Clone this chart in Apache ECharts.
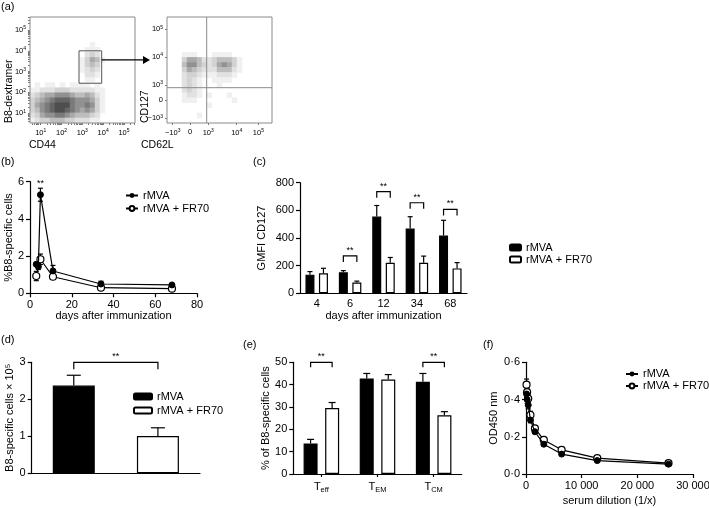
<!DOCTYPE html>
<html><head><meta charset="utf-8">
<script src="https://cdn.jsdelivr.net/npm/echarts@6.0.0/dist/echarts.min.js"></script>
<style>
html,body{margin:0;padding:0;background:#fff;width:709px;height:508px;overflow:hidden;}
#chart{position:absolute;left:0;top:0;width:709px;height:508px;}
</style></head><body>
<div id="chart"></div>
<script>
// ================= DATA =================
// (a) flow cytometry: density levels (0-9), rows top->bottom
const cd44Density = [
"000000000000000000000","000000000000000000000","000000000000000000000","000000000000000000000",
"000000000000000000000","000000000000100000000","000000000001110000000","000000000002320000000",
"000000000013541000000","000000000013430000000","000000000012320000000","000000000002210000000",
"000000000001100000000","010110101111010000000","112223332222211000000","234556665445421000000",
"345678887666531000000","356789997667631000000","346789987656531000000","235667765444320000000",
"123344433222110000000"];
const cd62lDensity = [
"000000000000000000000","000000000000000000000","000000000000000000000","000000000000000000000",
"000000000000000000000","000000000000000000000","000000000000000000000","000111000111100000000",
"000355422344431000000","000466432356531000000","000354322244421000000","000233211122210000000",
"000232100111100000000","000232100010000000000","000232100000000000000","000122101000100000000",
"000111000000010000000","000000001000000000000","000000000000000000000","000000100000000000000",
"000000000000000000000"];
const cd44Range = [0.485, 5.53];          // log10 units
const dexRange = [0.53, 5.625];
const logDecades = [1, 2, 3, 4, 5];
const gateCD44 = [2.84, 3.93];
const gateDex = [2.44, 4.0];
const arrowSpec = [3.93, 6.25, 3.56];      // from x, to x, at y (log units)
const cd62lTickPos = [0.054, 0.219, 0.393, 0.664, 0.87];
const cd62lTickLab = ['−10^3', '0', '10^3', '10^4', '10^5'];
const cd127TickPos = [0.044, 0.217, 0.358, 0.625, 0.884];
const cd127TickLab = ['−10^3', '0', '10^3', '10^4', '10^5'];
const quadGate = [0.378, 0.333];

// (b)
const bXTicks  = [0, 20, 40, 60, 80];
const bYTicks  = [0, 2, 4, 6];
const bDaysMVA = [3, 4, 5, 11, 34, 68];
const bMVA     = [1.56, 1.43, 5.3, 1.2, 0.5, 0.45];
const bMVAErr  = [0.1, 0.15, 0.35, 0.3, 0.15, 0.05];
const bDaysFR  = [3, 5, 11, 34, 68];
const bFR      = [0.93, 1.83, 0.89, 0.3, 0.25];
const bFRErr   = [0.25, 0.28, 0.08, 0.05, 0.04];
const bSig     = [[5, 5.9]];

// (c)
const cYTicks = [0, 200, 400, 600, 800];
const cDays   = ['4', '6', '12', '34', '68'];
const cMVA    = [135, 152, 555, 468, 418];
const cMVAErr = [22, 12, 80, 86, 110];
const cFR     = [145, 78, 221, 221, 180];
const cFRErr  = [36, 10, 38, 48, 42];
const cSig    = [[1, 1, 270], [2, 2, 735], [3, 3, 655], [4, 4, 607]];

// (d)
const dYTicks = [0, 1, 2, 3];
const dGroups = ['rMVA', 'rMVA + FR70'];
const dMean   = [2.37, 1.01];
const dErr    = [0.28, 0.22];
const dSig    = [[0, 1, 3]];

// (e)
const eYTicks = [0, 10, 20, 30, 40, 50];
const eCats   = ['eff', 'EM', 'CM'];
const eMVA    = [13.7, 42.8, 41.3];
const eMVAErr = [1.8, 2.2, 3.7];
const eFR     = [29.5, 42.3, 26.3];
const eFRErr  = [2.5, 2.2, 1.6];
const eSig    = [[0, 0, 50], [2, 2, 50]];

// (f)
const fXTicks = [0, 10000, 20000, 30000];
const fYTicks = [0, 0.2, 0.4, 0.6];
const fDil    = [100, 200, 400, 800, 1600, 3200, 6400, 12800, 25600];
const fMVA    = [0.43, 0.40, 0.37, 0.29, 0.227, 0.16, 0.107, 0.072, 0.053];
const fMVAErr = [0.02, 0.02, 0.02, 0.015, 0.01, 0.01, 0.008, 0.006, 0.005];
const fFR     = [0.48, 0.44, 0.405, 0.317, 0.245, 0.183, 0.13, 0.085, 0.058];
const fFRErr  = [0.03, 0.02, 0.02, 0.02, 0.015, 0.012, 0.01, 0.008, 0.005];

// ================= HELPERS =================
const FONT = "'Liberation Sans', Arial, Helvetica, sans-serif";
const LINE = {color: '#000', width: 1.2};
const S1 = 'rMVA', S2 = 'rMVA + FR70';
function zip(a, b) { return a.map((v, i) => [v, b[i]]); }
function zip3(a, b, c) { return a.map((v, i) => [v, b[i], c[i]]); }
function densData(rows) {
  const d = [];
  rows.forEach((s, r) => { for (let c = 0; c < s.length; c++) { const v = +s[c]; if (v > 0) d.push([c, r, v]); } });
  return d;
}
function idx(n) { return Array.from({length: n}, (_, i) => String(i)); }
function logTicks(lo, hi) {
  const t = [];
  for (let n = 0; n <= 6; n++) for (let k = 1; k <= 9; k++) { const v = n + Math.log10(k); if (v >= lo && v <= hi) t.push(v); }
  return t;
}
function supFmt(s) {
  const m = s.match(/^(.*)\^(\d)$/);
  return m ? '{b|' + m[1] + '}{s|' + m[2] + '}' : '{b|' + s + '}';
}
const supRich = {b: {fontSize: 7.5, fontFamily: FONT, color: '#000'}, s: {fontSize: 5, fontFamily: FONT, color: '#000', padding: [0, 0, 4, 0]}};
function lookupFmt(pos, lab) { return v => { const i = pos.findIndex(p => Math.abs(p - v) < 1e-6); return i < 0 ? '' : supFmt(lab[i]); }; }

function errRender(offset, both, cap) {
  return function (params, api) {
    const x = api.value(0), m = api.value(1), e = api.value(2);
    const c = api.coord([x, m]);
    const hi = api.coord([x, m + e]);
    const lo = both ? api.coord([x, m - e]) : c;
    const px = c[0] + offset;
    const st = {stroke: '#000', lineWidth: 1.2, fill: null};
    const ch = [
      {type: 'line', shape: {x1: px, y1: lo[1], x2: px, y2: hi[1]}, style: st},
      {type: 'line', shape: {x1: px - cap, y1: hi[1], x2: px + cap, y2: hi[1]}, style: st}
    ];
    if (both) ch.push({type: 'line', shape: {x1: px - cap, y1: lo[1], x2: px + cap, y2: lo[1]}, style: st});
    return {type: 'group', children: ch};
  };
}
function sigRender(off, drop) {
  return function (params, api) {
    const a = api.coord([api.value(0), api.value(2)]);
    const b = api.coord([api.value(1), api.value(2)]);
    const x1 = a[0] - off, x2 = b[0] + off, y = a[1];
    return {type: 'group', children: [
      {type: 'polyline', shape: {points: [[x1, y + drop], [x1, y], [x2, y], [x2, y + drop]]}, style: {stroke: '#000', lineWidth: 1.2, fill: null}},
      {type: 'text', style: {text: '**', x: (x1 + x2) / 2, y: y - 1, align: 'center', verticalAlign: 'bottom', fontSize: 9, fontFamily: FONT, fill: '#000'}}
    ]};
  };
}
function starRender(params, api) {
  const p = api.coord([api.value(0), api.value(1)]);
  return {type: 'text', style: {text: '**', x: p[0], y: p[1], align: 'center', verticalAlign: 'middle', fontSize: 9, fontFamily: FONT, fill: '#000'}};
}
const plainFmt = v => String(Math.round(v * 1000) / 1000);
function valAx(gi, ticks, name, gap, fmt) {
  return {gridIndex: gi, type: 'value', min: ticks[0], max: ticks[ticks.length - 1], interval: ticks[1] - ticks[0],
    name, nameLocation: 'middle', nameGap: gap, nameMoveOverlap: false,
    nameTextStyle: {fontSize: 11, fontFamily: FONT, color: '#000'},
    axisLine: {show: true, onZero: false, lineStyle: LINE}, axisTick: {show: true, length: 4, lineStyle: LINE},
    axisLabel: {fontSize: 11, fontFamily: FONT, color: '#000', margin: 6, formatter: fmt || plainFmt, showMinLabel: true, showMaxLabel: true, hideOverlap: false},
    splitLine: {show: false}};
}
function catAx(gi, data, name, gap, tick) {
  return {gridIndex: gi, type: 'category', data, name, nameLocation: 'middle', nameGap: gap, nameMoveOverlap: false,
    nameTextStyle: {fontSize: 11, fontFamily: FONT, color: '#000'},
    axisLine: {show: true, onZero: false, lineStyle: LINE}, axisTick: {show: tick, alignWithLabel: true, length: 3, lineStyle: LINE},
    axisLabel: {fontSize: 11, fontFamily: FONT, color: '#000', margin: 5, interval: 0, hideOverlap: false}, splitLine: {show: false}};
}
function txt(text, x, y, extra) {
  return {type: 'text', x, y, style: Object.assign({text, fontSize: 11, fontFamily: FONT, fill: '#000', align: 'left', verticalAlign: 'middle'}, extra || {})};
}
function legendAt(left, top, key, w, h, gap) {
  return {left, top, orient: 'vertical', itemWidth: w, itemHeight: h, itemGap: gap, data: [S1 + key, S2 + key],
    formatter: n => n.split('#')[0], textStyle: {fontSize: 11, fontFamily: FONT, color: '#000'}};
}
const flowLab = {margin: 5, showMinLabel: true, showMaxLabel: true, hideOverlap: false, rich: supRich};
const tickGrey = {color: '#555', width: 0.8};
const boxGrid = {show: true, borderColor: '#8a8a8a', borderWidth: 1, backgroundColor: 'transparent', z: 10};
const BLACK = {color: '#000', borderColor: '#000', borderWidth: 1.2};
const WHITE = {color: '#fff', borderColor: '#000', borderWidth: 1.2};
const OPEN = {color: '#fff', borderColor: '#000', borderWidth: 1.2};

// axis / grid indices: 0 flowL, 1 flowL heat, 2 flowR, 3 flowR heat, 4 b, 5 c, 6 d, 7 e, 8 f
const eXAxis = catAx(7, eCats, '', 0, true);
eXAxis.axisLabel = {margin: 6, interval: 0, hideOverlap: false, formatter: v => '{t|T}{u|' + v + '}',
  rich: {t: {fontSize: 11, fontFamily: FONT, color: '#000'}, u: {fontSize: 7.5, fontFamily: FONT, color: '#000', padding: [6, 0, 0, 0]}}};
const dXAxis = catAx(6, dGroups, '', 0, false);
dXAxis.axisLabel = {show: false};

const option = {
  animation: false,
  textStyle: {fontFamily: FONT},
  grid: [
    Object.assign({left: 30, top: 17, width: 105, height: 106}, boxGrid),
    {left: 30, top: 17, width: 105, height: 106},
    Object.assign({left: 167, top: 17, width: 105, height: 106}, boxGrid),
    {left: 167, top: 17, width: 105, height: 106},
    {left: 30, top: 181.7, width: 167, height: 111.6},
    {left: 300, top: 182.7, width: 167, height: 110.6},
    {left: 31.7, top: 362.3, width: 168.3, height: 111},
    {left: 293.3, top: 362.3, width: 168.4, height: 111.7},
    {left: 526, top: 362.3, width: 167, height: 111.7}
  ].map(g => Object.assign({outerBoundsMode: 'none'}, g)),
  xAxis: [
    {gridIndex: 0, type: 'value', min: cd44Range[0], max: cd44Range[1], axisLine: {show: false}, splitLine: {show: false},
      axisTick: {show: true, customValues: logTicks(cd44Range[0], cd44Range[1]), length: 2, lineStyle: tickGrey},
      axisLabel: Object.assign({}, flowLab, {customValues: logDecades, formatter: v => supFmt('10^' + Math.round(v))})},
    {gridIndex: 1, type: 'category', data: idx(21), show: false},
    {gridIndex: 2, type: 'value', min: 0, max: 1, axisLine: {show: false}, splitLine: {show: false},
      axisTick: {show: true, customValues: cd62lTickPos, length: 2, lineStyle: tickGrey},
      axisLabel: Object.assign({}, flowLab, {customValues: cd62lTickPos, formatter: lookupFmt(cd62lTickPos, cd62lTickLab)})},
    {gridIndex: 3, type: 'category', data: idx(21), show: false},
    valAx(4, bXTicks, 'days after immunization', 17),
    catAx(5, cDays, 'days after immunization', 17, false),
    dXAxis,
    eXAxis,
    valAx(8, fXTicks, 'serum dilution (1/x)', 21, v => Math.abs(v) < 1 ? '0' : String(Math.round(v)).replace(/\B(?=(\d{3})+(?!\d))/g, ' '))
  ],
  yAxis: [
    {gridIndex: 0, type: 'value', min: dexRange[0], max: dexRange[1], axisLine: {show: false}, splitLine: {show: false},
      axisTick: {show: true, customValues: logTicks(dexRange[0], dexRange[1]), length: 2, lineStyle: tickGrey},
      axisLabel: Object.assign({}, flowLab, {margin: 4, customValues: logDecades, formatter: v => supFmt('10^' + Math.round(v))})},
    {gridIndex: 1, type: 'category', data: idx(21), show: false, inverse: true},
    {gridIndex: 2, type: 'value', min: 0, max: 1, axisLine: {show: false}, splitLine: {show: false},
      axisTick: {show: true, customValues: cd127TickPos, length: 2, lineStyle: tickGrey},
      axisLabel: Object.assign({}, flowLab, {margin: 4, customValues: cd127TickPos, formatter: lookupFmt(cd127TickPos, cd127TickLab)})},
    {gridIndex: 3, type: 'category', data: idx(21), show: false, inverse: true},
    valAx(4, bYTicks, '%B8-specific cells', 16),
    valAx(5, cYTicks, 'GMFI CD127', 33),
    valAx(6, dYTicks, 'B8-specific cells × 10⁵', 16),
    valAx(7, eYTicks, '% of B8-specific cells', 22),
    valAx(8, fYTicks, 'OD450 nm', 27, v => Math.abs(v).toFixed(1).replace('.', '·'))
  ],
  legend: [
    legendAt(120, 185, '#b', 12, 6, 2),
    legendAt(504, 237, '#c', 11, 6, 1),
    legendAt(128, 386, '#d', 18, 6, 3),
    legendAt(620, 363.5, '#f', 12, 6, 1)
  ],
  visualMap: {show: false, min: 1, max: 9, seriesIndex: [0, 1], inRange: {color: ['#f0f0f0', '#d2d2d2', '#a8a8a8', '#7a7a7a', '#4e4e4e']}},
  series: [
    // (a)
    {type: 'heatmap', xAxisIndex: 1, yAxisIndex: 1, data: densData(cd44Density), emphasis: {disabled: true}, silent: true},
    {type: 'heatmap', xAxisIndex: 3, yAxisIndex: 3, data: densData(cd62lDensity), emphasis: {disabled: true}, silent: true},
    {type: 'custom', xAxisIndex: 0, yAxisIndex: 0, z: 20, silent: true, clip: false,
      data: [[gateCD44[0], gateCD44[1], gateDex[0], gateDex[1]]],
      renderItem: (p, api) => {
        const a = api.coord([api.value(0), api.value(3)]), b = api.coord([api.value(1), api.value(2)]);
        const s = api.coord([arrowSpec[0], arrowSpec[2]]), e = api.coord([arrowSpec[1], arrowSpec[2]]);
        return {type: 'group', children: [
          {type: 'rect', shape: {x: a[0], y: a[1], width: b[0] - a[0], height: b[1] - a[1]}, style: {stroke: '#555', lineWidth: 1, fill: null}},
          {type: 'line', shape: {x1: s[0], y1: s[1], x2: e[0] - 6, y2: e[1]}, style: {stroke: '#000', lineWidth: 1.2}},
          {type: 'polygon', shape: {points: [[e[0], e[1]], [e[0] - 7, e[1] - 4], [e[0] - 7, e[1] + 4]]}, style: {fill: '#000'}}
        ]};
      }},
    {type: 'custom', xAxisIndex: 2, yAxisIndex: 2, z: 20, silent: true,
      data: [quadGate],
      renderItem: (p, api) => {
        const c = api.coord([api.value(0), api.value(1)]);
        const lt = api.coord([0, 1]), rb = api.coord([1, 0]);
        const st = {stroke: '#8a8a8a', lineWidth: 1};
        return {type: 'group', children: [
          {type: 'line', shape: {x1: c[0], y1: lt[1], x2: c[0], y2: rb[1]}, style: st},
          {type: 'line', shape: {x1: lt[0], y1: c[1], x2: rb[0], y2: c[1]}, style: st}
        ]};
      }},
    // (b)
    {type: 'custom', xAxisIndex: 4, yAxisIndex: 4, z: 1, data: zip3(bDaysFR, bFR, bFRErr), renderItem: errRender(0, true, 2.5), silent: true},
    {type: 'custom', xAxisIndex: 4, yAxisIndex: 4, z: 1, data: zip3(bDaysMVA, bMVA, bMVAErr), renderItem: errRender(0, true, 2.5), silent: true},
    {type: 'line', name: S2 + '#b', xAxisIndex: 4, yAxisIndex: 4, z: 3, data: zip(bDaysFR, bFR), symbol: 'circle', symbolSize: 7, itemStyle: OPEN, lineStyle: LINE},
    {type: 'line', name: S1 + '#b', xAxisIndex: 4, yAxisIndex: 4, z: 4, data: zip(bDaysMVA, bMVA), symbol: 'circle', symbolSize: 6, itemStyle: {color: '#000', borderColor: '#000'}, lineStyle: LINE},
    {type: 'custom', xAxisIndex: 4, yAxisIndex: 4, z: 5, data: bSig, renderItem: starRender, silent: true},
    // (c)
    {type: 'bar', name: S1 + '#c', xAxisIndex: 5, yAxisIndex: 5, data: cMVA, barWidth: 9, barGap: '50%', itemStyle: BLACK},
    {type: 'bar', name: S2 + '#c', xAxisIndex: 5, yAxisIndex: 5, data: cFR, barWidth: 9, itemStyle: WHITE},
    {type: 'custom', xAxisIndex: 5, yAxisIndex: 5, z: 3, data: zip3([0, 1, 2, 3, 4], cMVA, cMVAErr), renderItem: errRender(-6.75, false, 2.5), silent: true},
    {type: 'custom', xAxisIndex: 5, yAxisIndex: 5, z: 3, data: zip3([0, 1, 2, 3, 4], cFR, cFRErr), renderItem: errRender(6.75, false, 2.5), silent: true},
    {type: 'custom', xAxisIndex: 5, yAxisIndex: 5, z: 3, data: cSig, renderItem: sigRender(6.75, 6), silent: true},
    // (d)
    {type: 'bar', name: S1 + '#d', xAxisIndex: 6, yAxisIndex: 6, data: [dMean[0], '-'], barWidth: 42, barGap: '-100%', itemStyle: BLACK},
    {type: 'bar', name: S2 + '#d', xAxisIndex: 6, yAxisIndex: 6, data: ['-', dMean[1]], barWidth: 42, itemStyle: WHITE},
    {type: 'custom', xAxisIndex: 6, yAxisIndex: 6, z: 3, data: zip3([0, 1], dMean, dErr), renderItem: errRender(0, false, 7), silent: true},
    {type: 'custom', xAxisIndex: 6, yAxisIndex: 6, z: 3, data: dSig, renderItem: sigRender(0, 7), silent: true},
    // (e)
    {type: 'bar', name: S1 + '#e', xAxisIndex: 7, yAxisIndex: 7, data: eMVA, barWidth: 14, barGap: '54%', itemStyle: BLACK},
    {type: 'bar', name: S2 + '#e', xAxisIndex: 7, yAxisIndex: 7, data: eFR, barWidth: 14, itemStyle: WHITE},
    {type: 'custom', xAxisIndex: 7, yAxisIndex: 7, z: 3, data: zip3([0, 1, 2], eMVA, eMVAErr), renderItem: errRender(-10.75, false, 3.5), silent: true},
    {type: 'custom', xAxisIndex: 7, yAxisIndex: 7, z: 3, data: zip3([0, 1, 2], eFR, eFRErr), renderItem: errRender(10.75, false, 3.5), silent: true},
    {type: 'custom', xAxisIndex: 7, yAxisIndex: 7, z: 3, data: eSig, renderItem: sigRender(10.75, 5), silent: true},
    // (f)
    {type: 'custom', xAxisIndex: 8, yAxisIndex: 8, z: 1, data: zip3(fDil, fFR, fFRErr), renderItem: errRender(0, true, 2.5), silent: true},
    {type: 'custom', xAxisIndex: 8, yAxisIndex: 8, z: 1, data: zip3(fDil, fMVA, fMVAErr), renderItem: errRender(0, true, 2.5), silent: true},
    {type: 'line', name: S2 + '#f', xAxisIndex: 8, yAxisIndex: 8, z: 3, data: zip(fDil, fFR), symbol: 'circle', symbolSize: 7, itemStyle: OPEN, lineStyle: LINE},
    {type: 'line', name: S1 + '#f', xAxisIndex: 8, yAxisIndex: 8, z: 4, data: zip(fDil, fMVA), symbol: 'circle', symbolSize: 6, itemStyle: {color: '#000', borderColor: '#000'}, lineStyle: LINE}
  ],
  graphic: [
    txt('(a)', 1, 7), txt('(b)', 1, 162), txt('(c)', 253, 162), txt('(d)', 1, 340), txt('(e)', 243, 345), txt('(f)', 483, 345),
    txt('CD44', 29, 145, {fontSize: 10.5}), txt('CD62L', 141, 145, {fontSize: 10.5}),
    Object.assign(txt('B8-dextramer', 15, 123, {fontSize: 10.5, verticalAlign: 'bottom'}), {rotation: Math.PI / 2}),
    Object.assign(txt('CD127', 151, 123, {fontSize: 10.5, verticalAlign: 'bottom'}), {rotation: Math.PI / 2})
  ]
};
const chart = echarts.init(document.getElementById('chart'), null, {renderer: 'canvas'});
chart.setOption(option);
</script>
</body></html>
